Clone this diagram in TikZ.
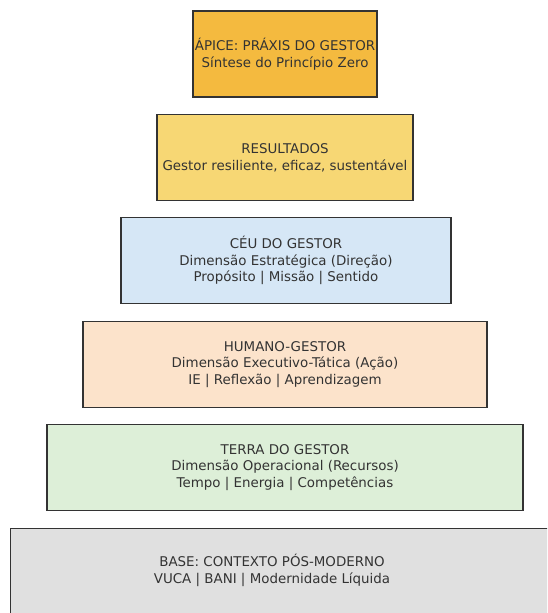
\documentclass[tikz,border=0pt]{standalone}
\usepackage{fontspec}
\setmainfont{DejaVu Sans}
\definecolor{txt}{HTML}{333333}
\definecolor{edge}{HTML}{333333}
\definecolor{capex}{HTML}{F4BA3F}
\definecolor{cres}{HTML}{F7D774}
\definecolor{cceu}{HTML}{D6E7F6}
\definecolor{chum}{HTML}{FCE3CB}
\definecolor{cterra}{HTML}{DDEFD8}
\definecolor{cbase}{HTML}{E0E0E0}
\begin{document}
\begin{tikzpicture}[x=1pt,y=-1pt,
  layer/.style={draw=edge, line width=1.2pt, rectangle, inner sep=0pt,
    minimum height=86pt, align=center, text=txt,
    font=\fontsize{13.4}{16.8}\selectfont},
  lbl/.style={inner sep=0pt, align=center, text=txt,
    font=\fontsize{13.4}{16.8}\selectfont}]
\useasboundingbox (0,0) rectangle (547,613);
\clip (0,0) rectangle (547,613);
\node[layer, fill=capex, minimum width=184pt] (apex) at (285,54)
  {ÁPICE: PRÁXIS DO GESTOR\\Síntese do Princípio Zero};
\node[layer, fill=cres, minimum width=256pt] (res) at (285,157.5)
  {RESULTADOS\\Gestor resiliente, eficaz, sustentável};
\node[layer, fill=cceu, minimum width=330pt] (ceu) at (286,260.5)
  {CÉU DO GESTOR\\Dimensão Estratégica (Direção)\\Propósito | Missão | Sentido};
\node[layer, fill=chum, minimum width=404pt] (hum) at (285,364.5)
  {HUMANO-GESTOR\\Dimensão Executivo-Tática (Ação)\\IE | Reflexão | Aprendizagem};
\node[layer, fill=cterra, minimum width=476pt] (terra) at (285,467.5)
  {TERRA DO GESTOR\\Dimensão Operacional (Recursos)\\Tempo | Energia | Competências};
\node[layer, fill=cbase, minimum width=560pt, minimum height=100pt, anchor=north west] (base) at (10,528) {};
\node[lbl] (basetxt) at (272,570.5)
  {BASE: CONTEXTO PÓS-MODERNO\\VUCA | BANI | Modernidade Líquida};
\end{tikzpicture}
\end{document}
